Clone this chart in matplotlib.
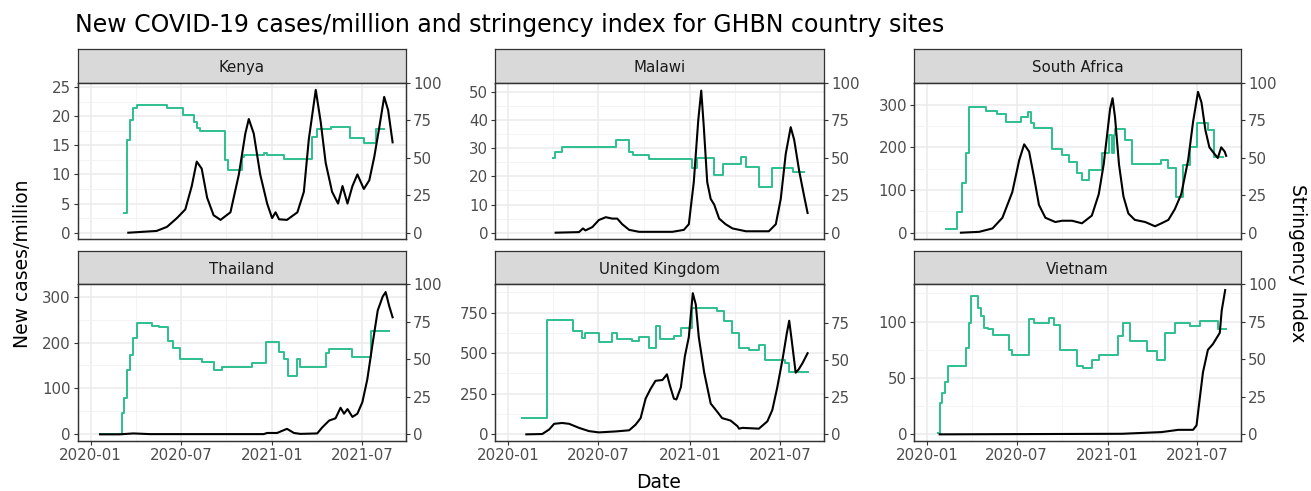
import numpy as np
import matplotlib
matplotlib.use('Agg')
import matplotlib.pyplot as plt

plt.rcParams['font.family'] = 'DejaVu Sans'

# values; days are counted from 2020-01-01
countries = ['Kenya', 'Malawi', 'South Africa', 'Thailand', 'United Kingdom', 'Vietnam']

kenya_case_day = [76, 133, 154, 174, 191, 204, 214, 224, 235, 248, 262, 282, 299, 312, 319, 329, 342, 356,
                  366, 373, 380, 396, 417, 430, 440, 454, 464, 474, 487, 499, 508, 518, 528, 538, 551, 562,
                  572, 582, 592, 600, 609]
kenya_cases = [0, 0.3, 1, 2.5, 4, 8, 12.2, 11, 6, 3, 2.2, 3.5, 10, 17, 19.5, 17, 10, 5,
               2.5, 3.5, 2.3, 2.2, 3.5, 7, 16, 24.5, 19, 12, 7, 5, 8, 5, 8, 10, 7.5, 9,
               13, 18, 23.3, 21, 15.5]
kenya_si_day = [67, 73, 80, 85, 93, 154, 186, 208, 214, 221, 272, 278, 305, 309, 349, 356, 390, 447, 457,
                484, 523, 551, 575, 592]
kenya_si = [13.3, 62, 75, 83, 85, 83, 78.5, 74, 70, 68, 48.5, 42, 50.5, 52, 53, 52, 49, 64, 69.5,
            70.7, 63, 60, 69.5, 69.5]

malawi_case_day = [96, 143, 151, 156, 170, 183, 197, 210, 220, 230, 244, 264, 331, 354, 364, 374, 383, 389,
                   394, 401, 408, 415, 425, 438, 452, 479, 525, 539, 549, 559, 569, 576, 586, 596, 603]
malawi_cases = [0, 0.2, 1.5, 0.8, 2, 4.5, 5.5, 5, 5, 3, 1, 0.3, 0.3, 1, 3, 18, 40, 50.5,
                38, 18, 12, 10, 5, 3, 1.5, 0.5, 0.5, 3, 12, 28, 37.5, 33, 22, 13, 7]
malawi_si_day = [91, 95, 109, 217, 244, 252, 284, 371, 381, 415, 432, 468, 479, 505, 532, 573, 596]
malawi_si = [50.2, 54, 57.3, 62.2, 54, 52.2, 49.1, 43, 50.2, 38.4, 46.2, 50.7, 44, 30.7, 43.3, 40.7, 40.7]

safrica_case_day = [69, 106, 133, 153, 173, 187, 197, 207, 217, 227, 240, 260, 274, 294, 314, 334, 348, 358,
                    364, 371, 376, 381, 389, 398, 408, 421, 442, 462, 475, 489, 502, 515, 529, 539, 549,
                    556, 564, 572, 582, 589, 596, 603, 606]
safrica_cases = [0, 2, 10, 35, 95, 170, 207, 190, 130, 65, 35, 25, 28, 28, 22, 40, 90, 160,
                 220, 290, 315, 270, 160, 85, 45, 30, 25, 15, 22, 30, 55, 90, 170, 260, 330,
                 305, 240, 200, 185, 175, 200, 190, 180]
safrica_si_day = [38, 62, 71, 79, 85, 119, 143, 160, 190, 205, 210, 217, 254, 274, 287, 304, 314, 328, 354,
                  368, 374, 378, 381, 401, 416, 475, 489, 505, 519, 532, 546, 570, 582, 599]
safrica_si = [2.4, 14, 33, 53, 84, 81, 79, 74, 77, 80.7, 73, 70, 56, 52, 47, 39.6, 35, 42, 53,
              65, 53, 65, 69.5, 62, 46, 48.4, 43, 24, 45, 57, 73, 68.4, 50.7, 50.7]

thailand_case_day = [19, 59, 86, 120, 349, 356, 376, 396, 410, 423, 457, 467, 481, 494, 504, 511, 518, 528,
                     538, 548, 558, 569, 579, 589, 595, 602, 609]
thailand_cases = [0, 0, 2, 0.5, 0.5, 3, 3, 12, 3, 1, 2, 15, 30, 35, 58, 45, 55, 38,
                  45, 70, 120, 200, 270, 300, 310, 280, 255]
thailand_si_day = [19, 63, 67, 73, 80, 86, 93, 123, 137, 157, 167, 181, 224, 248, 265, 326, 353, 380, 390,
                   398, 417, 423, 474, 481, 528, 566, 602]
thailand_si = [0, 14, 24, 43, 53, 64, 74, 72, 71.7, 62, 57.6, 50.2, 48, 42.6, 45, 47.5, 61.4, 55, 50.2,
               39, 50, 45, 54, 57, 51.6, 69.2, 69.2]

uk_case_day = [37, 69, 83, 93, 109, 123, 143, 163, 183, 217, 244, 257, 267, 277, 287, 297, 311, 320, 326,
               334, 339, 348, 356, 364, 372, 378, 384, 395, 408, 421, 431, 448, 462, 465, 472, 505, 522,
               532, 542, 553, 561, 566, 571, 579, 585, 593, 603]
uk_cases = [0, 2, 30, 65, 70, 65, 40, 20, 12, 18, 25, 60, 100, 220, 280, 330, 335, 370, 300,
            220, 215, 290, 480, 600, 870, 800, 600, 380, 190, 140, 100, 85, 50, 35, 40, 35, 80,
            150, 290, 470, 620, 700, 580, 380, 400, 440, 500]
uk_si_day = [29, 79, 130, 150, 156, 183, 210, 220, 250, 264, 284, 297, 307, 334, 348, 371, 421, 435, 451,
             465, 485, 505, 518, 558, 565, 603]
uk_si = [11, 76.8, 69.4, 65, 68.5, 62, 68, 64, 62.6, 65.5, 58, 72.7, 64, 66, 71.6, 85, 83, 76, 68,
         58, 56.5, 60.4, 49.8, 48, 42.3, 42.3]

vietnam_case_day = [26, 395, 475, 509, 539, 546, 552, 559, 569, 579, 586, 593, 597, 604]
vietnam_cases = [0, 0.5, 2, 4, 4, 8, 30, 55, 75, 80, 85, 90, 110, 128]
vietnam_si_day = [22, 26, 31, 36, 42, 79, 85, 89, 103, 109, 116, 123, 133, 166, 173, 207, 217, 247, 257,
                  270, 304, 317, 334, 348, 388, 398, 411, 445, 465, 482, 502, 532, 552, 589, 605]
vietnam_si = [0.7, 21, 27.5, 35, 45.3, 57.6, 74.3, 92.2, 84.4, 78.8, 71, 69.9, 66.5, 56.5, 53, 76.6, 74.3,
              77.7, 73.2, 56.5, 45.3, 44.2, 49.8, 53, 65.4, 74.3, 62, 55.4, 49.8, 67.6, 74.3, 72.5, 75.4,
              69.9, 69.9]

case_days = [kenya_case_day, malawi_case_day, safrica_case_day, thailand_case_day, uk_case_day, vietnam_case_day]
case_vals = [kenya_cases, malawi_cases, safrica_cases, thailand_cases, uk_cases, vietnam_cases]
si_days = [kenya_si_day, malawi_si_day, safrica_si_day, thailand_si_day, uk_si_day, vietnam_si_day]
si_vals = [kenya_si, malawi_si, safrica_si, thailand_si, uk_si, vietnam_si]

case_ticks = [[0, 5, 10, 15, 20, 25], [0, 10, 20, 30, 40, 50], [0, 100, 200, 300],
              [0, 100, 200, 300], [0, 250, 500, 750], [0, 50, 100]]
case_lims = [(-1.08, 25.68), (-2.25, 53.2), (-14.8, 350.7), (-14.5, 326.9), (-41, 924.6), (-5.9, 133.1)]
si_top = [100, 100, 100, 100, 101, 100]
si_ticks = [[0, 25, 50, 75, 100]] * 4 + [[0, 25, 50, 75]] + [[0, 25, 50, 75, 100]]
date_ticks = ['2020-01-01', '2020-07-01', '2021-01-01', '2021-07-01']
date_labels = ['2020-01', '2020-07', '2021-01', '2021-07']

green = '#2DBF8E'
W, H = 1311, 491
fig = plt.figure(figsize=(W / 100, H / 100), dpi=100)

base = np.datetime64('2020-01-01')
def to_date(days):
    return base + np.array(days).astype('timedelta64[D]')

col_x = [(77.7, 406), (495, 824), (914, 1241)]
row_y = [(49, 83, 239), (251, 284.3, 441)]
xmin, xmax = np.datetime64('2019-12-06'), np.datetime64('2021-09-28')
xmajor = np.array(date_ticks, dtype='datetime64[D]')
xminor = np.array(['2020-04-01', '2020-10-01', '2021-04-01'], dtype='datetime64[D]')

for i, name in enumerate(countries):
    r, c = divmod(i, 3)
    x0, x1 = col_x[c]
    s0, p0, p1 = row_y[r]

    # strip
    sax = fig.add_axes([x0 / W, 1 - p0 / H, (x1 - x0) / W, (p0 - s0) / H])
    sax.set_facecolor('#D9D9D9')
    sax.set_xticks([])
    sax.set_yticks([])
    for sp in sax.spines.values():
        sp.set_color('#333333')
        sp.set_linewidth(0.9)
    sax.text(0.5, 0.45, name, ha='center', va='center', fontsize=10.8, color='#1A1A1A',
             transform=sax.transAxes)

    ax = fig.add_axes([x0 / W, 1 - p1 / H, (x1 - x0) / W, (p1 - p0) / H])
    ax2 = ax.twinx()
    lo, hi = case_lims[i]
    ax.set_ylim(lo, hi)
    ax2.set_ylim(lo * si_top[i] / hi, si_top[i])
    ax.set_xlim(xmin, xmax)

    yt = case_ticks[i]
    step = yt[1] - yt[0]
    ymin = [v + step / 2 for v in [yt[0] - step] + yt if lo < v + step / 2 < hi]
    ax.set_yticks(yt)
    ax.set_yticks(ymin, minor=True)
    ax.set_xticks(xmajor)
    ax.set_xticks(xminor, minor=True)
    ax.grid(True, which='major', color='#EBEBEB', lw=1.1)
    ax.grid(True, which='minor', color='#F2F2F2', lw=0.6)
    ax.set_axisbelow(True)
    ax.tick_params(which='minor', length=0)
    ax.tick_params(length=3, color='#333333', labelcolor='#4D4D4D', labelsize=10.8, pad=2)
    ax2.tick_params(length=3, color='#333333', labelcolor='#4D4D4D', labelsize=10.8, pad=2)
    ax2.set_yticks(si_ticks[i])
    if r == 1:
        ax.set_xticklabels(date_labels)
    else:
        ax.tick_params(axis='x', length=0, labelbottom=False)

    for a in (ax, ax2):
        for sp in a.spines.values():
            sp.set_color('#333333')
            sp.set_linewidth(0.9)

    # stringency drawn in ax so the cases line sits on top of it
    ax.plot(to_date(si_days[i]), si_vals[i], drawstyle='steps-post', color=green, lw=1.4,
            transform=ax2.transData, zorder=2)
    ax.plot(to_date(case_days[i]), case_vals[i], color='black', lw=1.5, zorder=3)
    ax.set_ylim(lo, hi)
    ax.set_xlim(xmin, xmax)

fig.text(75 / W, 1 - 32 / H, 'New COVID-19 cases/million and stringency index for GHBN country sites',
         fontsize=17, color='black', va='baseline', ha='left')
fig.text(23 / W, 1 - 264 / H, 'New cases/million', rotation=90, fontsize=13.5, ha='center', va='center')
fig.text(1298 / W, 1 - 263 / H, 'Stringency Index', rotation=270, fontsize=13.5, ha='center', va='center')
fig.text(659 / W, 1 - 482 / H, 'Date', fontsize=13.5, ha='center', va='center')

fig.savefig('out.png', dpi=100)
